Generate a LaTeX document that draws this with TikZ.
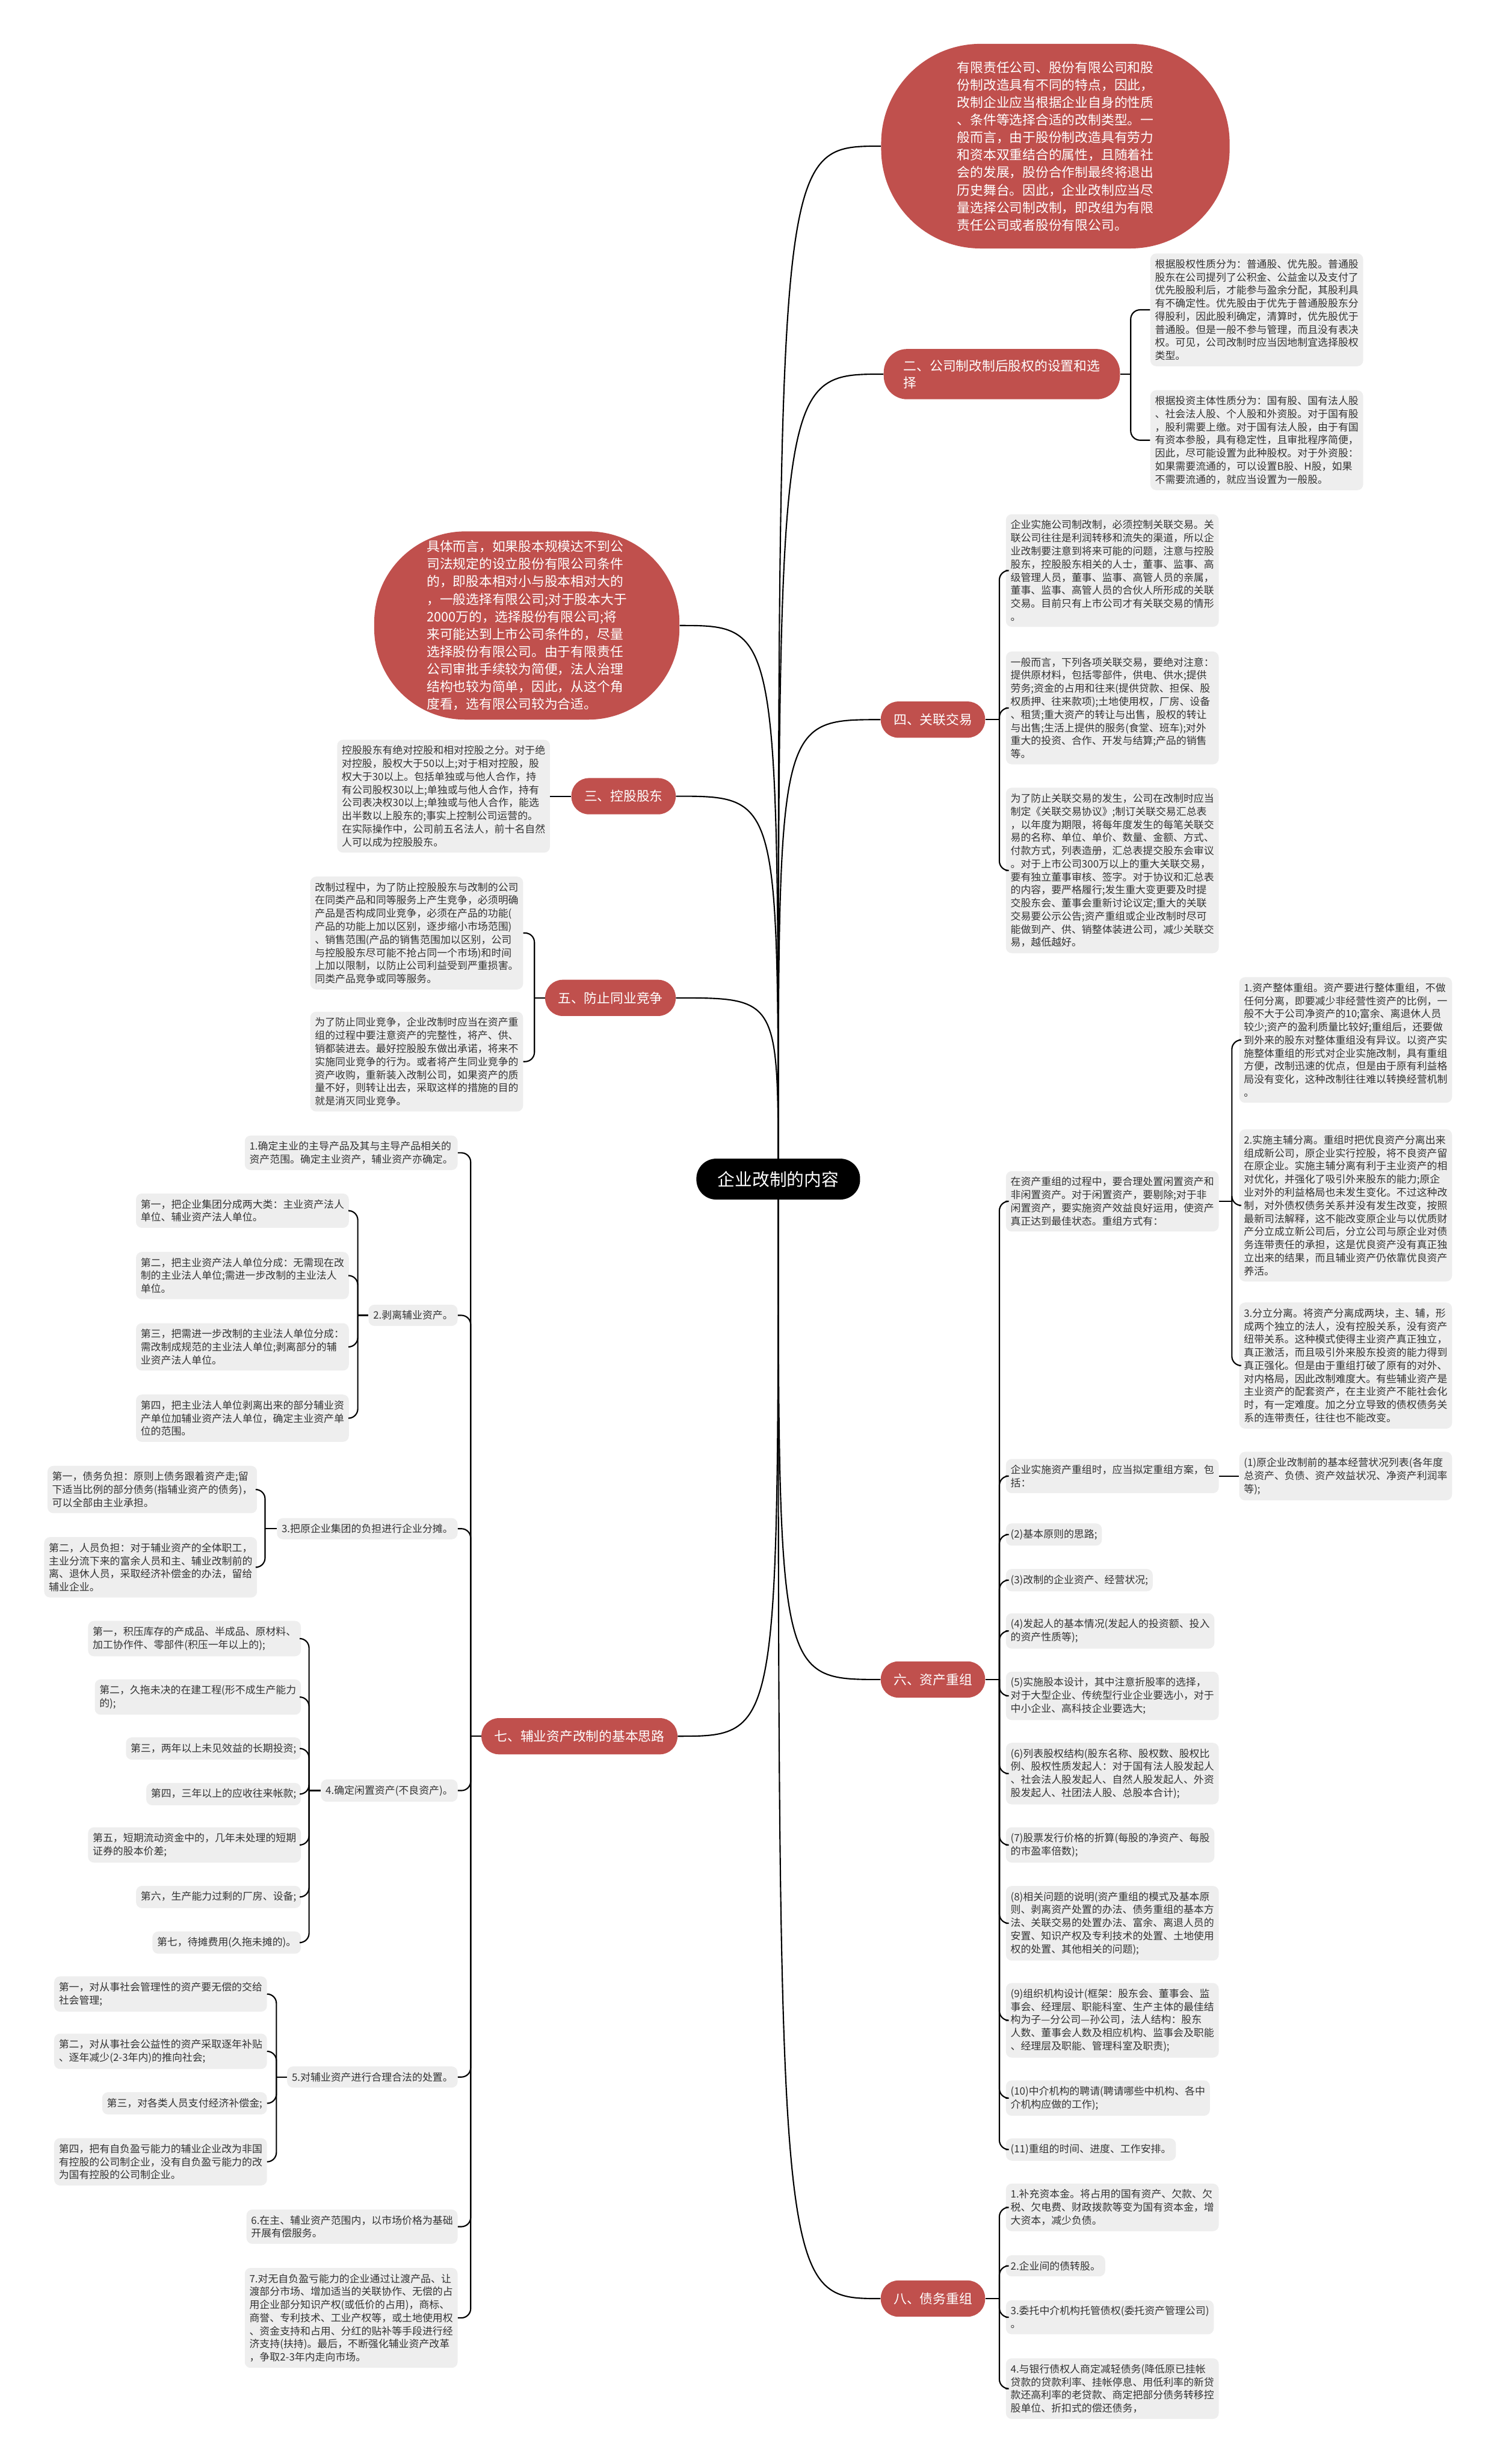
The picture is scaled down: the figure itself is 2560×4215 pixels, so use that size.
\documentclass[tikz,border=0pt]{standalone}
\usepackage{fontspec}
\setmainfont{Noto Sans CJK SC}
\usepackage{tikz}
\usepackage{xcolor}
\usetikzlibrary{backgrounds}
\definecolor{brred}{RGB}{192,80,77}
\definecolor{leafgray}{RGB}{238,238,238}
\definecolor{leaftext}{RGB}{51,51,51}

\begin{document}
\begin{tikzpicture}[x=0.5pt,y=-0.5pt,
root/.style={fill=black,text=white,rounded corners=17pt,minimum width=140pt,minimum height=35pt,font=\fontsize{14.8}{18}\selectfont},
branch/.style={fill=brred,text=white,rounded corners=15pt,minimum height=31pt,inner xsep=11pt,align=left,font=\fontsize{11.2}{14.5}\selectfont},
bubble/.style={fill=brred,text=white,align=left,font=\fontsize{11.2}{15}\selectfont},
leaf/.style={fill=leafgray,text=leaftext,rounded corners=5pt,inner xsep=4pt,inner ysep=5pt,align=left,font=\fontsize{8.7}{11.2}\selectfont},
link/.style={line width=1.1pt,rounded corners=8pt},
trunk/.style={line width=1.1pt}]
\useasboundingbox (0,0) rectangle (2560,4215);

\node[root] (root) at (1331,2017) {企业改制的内容};

% right side
\node[bubble,rounded corners=85pt,minimum width=298pt,minimum height=175pt] (idea1) at (1805,250) {有限责任公司、股份有限公司和股\\份制改造具有不同的特点，因此，\\改制企业应当根据企业自身的性质\\、条件等选择合适的改制类型。一\\般而言，由于股份制改造具有劳力\\和资本双重结合的属性，且随着社\\会的发展，股份合作制最终将退出\\历史舞台。因此，企业改制应当尽\\量选择公司制改制，即改组为有限\\责任公司或者股份有限公司。};

\node[branch,anchor=west,rounded corners=20pt,minimum height=43pt,inner xsep=17pt] (b2) at (1511,640) {二、公司制改制后股权的设置和选\\择};
\node[leaf,anchor=west] (c21) at (1967,530) {根据股权性质分为：普通股、优先股。普通股\\股东在公司提列了公积金、公益金以及支付了\\优先股股利后，才能参与盈余分配，其股利具\\有不确定性。优先股由于优先于普通股股东分\\得股利，因此股利确定，清算时，优先股优于\\普通股。但是一般不参与管理，而且没有表决\\权。可见，公司改制时应当因地制宜选择股权\\类型。};
\node[leaf,anchor=west] (c22) at (1967,753) {根据投资主体性质分为：国有股、国有法人股\\、社会法人股、个人股和外资股。对于国有股\\，股利需要上缴。对于国有法人股，由于有国\\有资本参股，具有稳定性，且审批程序简便，\\因此，尽可能设置为此种股权。对于外资股：\\如果需要流通的，可以设置B股、H股，如果\\不需要流通的，就应当设置为一般股。};

\node[branch,anchor=west] (b4) at (1506,1231) {四、关联交易};
\node[leaf,anchor=west] (c41) at (1720,976) {企业实施公司制改制，必须控制关联交易。关\\联公司往往是利润转移和流失的渠道，所以企\\业改制要注意到将来可能的问题，注意与控股\\股东，控股股东相关的人士，董事、监事、高\\级管理人员，董事、监事、高管人员的亲属，\\董事、监事、高管人员的合伙人所形成的关联\\交易。目前只有上市公司才有关联交易的情形\\。};
\node[leaf,anchor=west] (c42) at (1720,1211) {一般而言，下列各项关联交易，要绝对注意：\\提供原材料，包括零部件，供电、供水;提供\\劳务;资金的占用和往来(提供贷款、担保、股\\权质押、往来款项);土地使用权，厂房、设备\\、租赁;重大资产的转让与出售，股权的转让\\与出售;生活上提供的服务(食堂、班车);对外\\重大的投资、合作、开发与结算;产品的销售\\等。};
\node[leaf,anchor=west] (c43) at (1720,1489) {为了防止关联交易的发生，公司在改制时应当\\制定《关联交易协议》;制订关联交易汇总表\\，以年度为期限，将每年度发生的每笔关联交\\易的名称、单位、单价、数量、金额、方式、\\付款方式，列表造册，汇总表提交股东会审议\\。对于上市公司300万以上的重大关联交易，\\要有独立董事审核、签字。对于协议和汇总表\\的内容，要严格履行;发生重大变更要及时提\\交股东会、董事会重新讨论议定;重大的关联\\交易要公示公告;资产重组或企业改制时尽可\\能做到产、供、销整体装进公司，减少关联交\\易，越低越好。};

\node[branch,anchor=west] (b6) at (1506,2873) {六、资产重组};
\node[leaf,anchor=west] (c6a) at (1720,2055) {在资产重组的过程中，要合理处置闲置资产和\\非闲置资产。对于闲置资产，要剔除;对于非\\闲置资产，要实施资产效益良好运用，使资产\\真正达到最佳状态。重组方式有：};
\node[leaf,anchor=west] (c6a1) at (2119,1779) {1.资产整体重组。资产要进行整体重组，不做\\任何分离，即要减少非经营性资产的比例，一\\般不大于公司净资产的10;富余、离退休人员\\较少;资产的盈利质量比较好;重组后，还要做\\到外来的股东对整体重组没有异议。以资产实\\施整体重组的形式对企业实施改制，具有重组\\方便，改制迅速的优点，但是由于原有利益格\\局没有变化，这种改制往往难以转换经营机制\\。};
\node[leaf,anchor=west] (c6a2) at (2119,2062) {2.实施主辅分离。重组时把优良资产分离出来\\组成新公司，原企业实行控股，将不良资产留\\在原企业。实施主辅分离有利于主业资产的相\\对优化，并强化了吸引外来股东的能力;原企\\业对外的利益格局也未发生变化。不过这种改\\制，对外债权债务关系并没有发生改变，按照\\最新司法解释，这不能改变原企业与以优质财\\产分立成立新公司后，分立公司与原企业对债\\务连带责任的承担，这是优良资产没有真正独\\立出来的结果，而且辅业资产仍依靠优良资产\\养活。};
\node[leaf,anchor=west] (c6a3) at (2119,2336) {3.分立分离。将资产分离成两块，主、辅，形\\成两个独立的法人，没有控股关系，没有资产\\纽带关系。这种模式使得主业资产真正独立，\\真正激活，而且吸引外来股东投资的能力得到\\真正强化。但是由于重组打破了原有的对外、\\对内格局，因此改制难度大。有些辅业资产是\\主业资产的配套资产，在主业资产不能社会化\\时，有一定难度。加之分立导致的债权债务关\\系的连带责任，往往也不能改变。};
\node[leaf,anchor=west] (c6b) at (1720,2525) {企业实施资产重组时，应当拟定重组方案，包\\括：};
\node[leaf,anchor=west] (c6b1) at (2119,2525) {(1)原企业改制前的基本经营状况列表(各年度\\总资产、负债、资产效益状况、净资产利润率\\等);};
\node[leaf,anchor=west] (c62) at (1720,2625) {(2)基本原则的思路;};
\node[leaf,anchor=west] (c63) at (1720,2703) {(3)改制的企业资产、经营状况;};
\node[leaf,anchor=west] (c64) at (1720,2790) {(4)发起人的基本情况(发起人的投资额、投入\\的资产性质等);};
\node[leaf,anchor=west] (c65) at (1720,2901) {(5)实施股本设计，其中注意折股率的选择，\\对于大型企业、传统型行业企业要选小，对于\\中小企业、高科技企业要选大;};
\node[leaf,anchor=west] (c66) at (1720,3034) {(6)列表股权结构(股东名称、股权数、股权比\\例、股权性质发起人：对于国有法人股发起人\\、社会法人股发起人、自然人股发起人、外资\\股发起人、社团法人股、总股本合计);};
\node[leaf,anchor=west] (c67) at (1720,3156) {(7)股票发行价格的折算(每股的净资产、每股\\的市盈率倍数);};
\node[leaf,anchor=west] (c68) at (1720,3290) {(8)相关问题的说明(资产重组的模式及基本原\\则、剥离资产处置的办法、债务重组的基本方\\法、关联交易的处置办法、富余、离退人员的\\安置、知识产权及专利技术的处置、土地使用\\权的处置、其他相关的问题);};
\node[leaf,anchor=west] (c69) at (1720,3456) {(9)组织机构设计(框架：股东会、董事会、监\\事会、经理层、职能科室、生产主体的最佳结\\构为子—分公司—孙公司，法人结构：股东\\人数、董事会人数及相应机构、监事会及职能\\、经理层及职能、管理科室及职责);};
\node[leaf,anchor=west] (c610) at (1720,3589) {(10)中介机构的聘请(聘请哪些中机构、各中\\介机构应做的工作);};
\node[leaf,anchor=west] (c611) at (1720,3677) {(11)重组的时间、进度、工作安排。};

\node[branch,anchor=west] (b8) at (1506,3932) {八、债务重组};
\node[leaf,anchor=west] (c81) at (1720,3776) {1.补充资本金。将占用的国有资产、欠款、欠\\税、欠电费、财政拨款等变为国有资本金，增\\大资本，减少负债。};
\node[leaf,anchor=west] (c82) at (1720,3876) {2.企业间的债转股。};
\node[leaf,anchor=west] (c83) at (1720,3964) {3.委托中介机构托管债权(委托资产管理公司)\\。};
\node[leaf,anchor=west] (c84) at (1720,4086) {4.与银行债权人商定减轻债务(降低原已挂帐\\贷款的贷款利率、挂帐停息、用低利率的新贷\\款还高利率的老贷款、商定把部分债务转移控\\股单位、折扣式的偿还债务，};

% left side
\node[bubble,rounded corners=78pt,minimum width=261pt,minimum height=161pt] (idea2) at (901,1070) {具体而言，如果股本规模达不到公\\司法规定的设立股份有限公司条件\\的，即股本相对小与股本相对大的\\，一般选择有限公司;对于股本大于\\2000万的，选择股份有限公司;将\\来可能达到上市公司条件的，尽量\\选择股份有限公司。由于有限责任\\公司审批手续较为简便，法人治理\\结构也较为简单，因此，从这个角\\度看，选有限公司较为合适。};

\node[branch,anchor=east] (b3) at (1156,1362) {三、控股股东};
\node[leaf,anchor=east] (c31) at (941,1362) {控股股东有绝对控股和相对控股之分。对于绝\\对控股，股权大于50以上;对于相对控股，股\\权大于30以上。包括单独或与他人合作，持\\有公司股权30以上;单独或与他人合作，持有\\公司表决权30以上;单独或与他人合作，能选\\出半数以上股东的;事实上控制公司运营的。\\在实际操作中，公司前五名法人，前十名自然\\人可以成为控股股东。};

\node[branch,anchor=east] (b5) at (1156,1707) {五、防止同业竞争};
\node[leaf,anchor=east] (c51) at (895,1596) {改制过程中，为了防止控股股东与改制的公司\\在同类产品和同等服务上产生竞争，必须明确\\产品是否构成同业竞争，必须在产品的功能(\\产品的功能上加以区别，逐步缩小市场范围)\\、销售范围(产品的销售范围加以区别，公司\\与控股股东尽可能不抢占同一个市场)和时间\\上加以限制，以防止公司利益受到严重损害。\\同类产品竞争或同等服务。};
\node[leaf,anchor=east] (c52) at (895,1816) {为了防止同业竞争，企业改制时应当在资产重\\组的过程中要注意资产的完整性，将产、供、\\销都装进去。最好控股股东做出承诺，将来不\\实施同业竞争的行为。或者将产生同业竞争的\\资产收购，重新装入改制公司，如果资产的质\\量不好，则转让出去，采取这样的措施的目的\\就是消灭同业竞争。};

\node[branch,anchor=east] (b7) at (1159,2970) {七、辅业资产改制的基本思路};
\node[leaf,anchor=east] (c71) at (783,1972) {1.确定主业的主导产品及其与主导产品相关的\\资产范围。确定主业资产，辅业资产亦确定。};
\node[leaf,anchor=east] (c72) at (783,2250) {2.剥离辅业资产。};
\node[leaf,anchor=east] (c721) at (597,2071) {第一，把企业集团分成两大类：主业资产法人\\单位、辅业资产法人单位。};
\node[leaf,anchor=east] (c722) at (597,2182) {第二，把主业资产法人单位分成：无需现在改\\制的主业法人单位;需进一步改制的主业法人\\单位。};
\node[leaf,anchor=east] (c723) at (597,2304) {第三，把需进一步改制的主业法人单位分成：\\需改制成规范的主业法人单位;剥离部分的辅\\业资产法人单位。};
\node[leaf,anchor=east] (c724) at (597,2426) {第四，把主业法人单位剥离出来的部分辅业资\\产单位加辅业资产法人单位，确定主业资产单\\位的范围。};
\node[leaf,anchor=east] (c73) at (783,2615) {3.把原企业集团的负担进行企业分摊。};
\node[leaf,anchor=east] (c731) at (440,2548) {第一，债务负担：原则上债务跟着资产走;留\\下适当比例的部分债务(指辅业资产的债务)，\\可以全部由主业承担。};
\node[leaf,anchor=east] (c732) at (440,2681) {第二，人员负担：对于辅业资产的全体职工，\\主业分流下来的富余人员和主、辅业改制前的\\离、退休人员，采取经济补偿金的办法，留给\\辅业企业。};
\node[leaf,anchor=east] (c74) at (783,3063) {4.确定闲置资产(不良资产)。};
\node[leaf,anchor=east] (c741) at (515,2803) {第一，积压库存的产成品、半成品、原材料、\\加工协作件、零部件(积压一年以上的);};
\node[leaf,anchor=east] (c742) at (515,2903) {第二，久拖未决的在建工程(形不成生产能力\\的);};
\node[leaf,anchor=east] (c743) at (515,2991) {第三，两年以上未见效益的长期投资;};
\node[leaf,anchor=east] (c744) at (515,3069) {第四，三年以上的应收往来帐款;};
\node[leaf,anchor=east] (c745) at (515,3156) {第五，短期流动资金中的，几年未处理的短期\\证券的股本价差;};
\node[leaf,anchor=east] (c746) at (515,3245) {第六，生产能力过剩的厂房、设备;};
\node[leaf,anchor=east] (c747) at (515,3323) {第七，待摊费用(久拖未摊的)。};
\node[leaf,anchor=east] (c75) at (783,3553) {5.对辅业资产进行合理合法的处置。};
\node[leaf,anchor=east] (c751) at (457,3411) {第一，对从事社会管理性的资产要无偿的交给\\社会管理;};
\node[leaf,anchor=east] (c752) at (457,3509) {第二，对从事社会公益性的资产采取逐年补贴\\、逐年减少(2-3年内)的推向社会;};
\node[leaf,anchor=east] (c753) at (457,3598) {第三，对各类人员支付经济补偿金;};
\node[leaf,anchor=east] (c754) at (457,3698) {第四，把有自负盈亏能力的辅业企业改为非国\\有控股的公司制企业，没有自负盈亏能力的改\\为国有控股的公司制企业。};
\node[leaf,anchor=east] (c76) at (783,3809) {6.在主、辅业资产范围内，以市场价格为基础\\开展有偿服务。};
\node[leaf,anchor=east] (c77) at (783,3965) {7.对无自负盈亏能力的企业通过让渡产品、让\\渡部分市场、增加适当的关联协作、无偿的占\\用企业部分知识产权(或低价的占用)，商标、\\商誉、专利技术、工业产权等，或土地使用权\\、资金支持和占用、分红的贴补等手段进行经\\济支持(扶持)。最后，不断强化辅业资产改革\\，争取2-3年内走向市场。};

\begin{scope}[on background layer]
\draw[trunk] (root.center) .. controls (root.center |- idea1.west) and (root.center |- idea1.west) .. (idea1.west);
\draw[trunk] (root.center) .. controls (root.center |- b2.west) and (root.center |- b2.west) .. (b2.west);
\draw[trunk] (root.center) .. controls (root.center |- b4.west) and (root.center |- b4.west) .. (b4.west);
\draw[trunk] (root.center) .. controls (root.center |- b6.west) and (root.center |- b6.west) .. (b6.west);
\draw[trunk] (root.center) .. controls (root.center |- b8.west) and (root.center |- b8.west) .. (b8.west);
\draw[trunk] (root.center) .. controls (root.center |- idea2.east) and (root.center |- idea2.east) .. (idea2.east);
\draw[trunk] (root.center) .. controls (root.center |- b3.east) and (root.center |- b3.east) .. (b3.east);
\draw[trunk] (root.center) .. controls (root.center |- b5.east) and (root.center |- b5.east) .. (b5.east);
\draw[trunk] (root.center) .. controls (root.center |- b7.east) and (root.center |- b7.east) .. (b7.east);
\end{scope}

\draw[link] (b2.east) -- ++(18,0) coordinate (k2);
\draw[link] (k2) |- (c21.west);
\draw[link] (k2) |- (c22.west);

\draw[link] (b4.east) -- ++(24,0) coordinate (k4);
\draw[link] (k4) |- (c41.west);
\draw[link] (k4) |- (c42.west);
\draw[link] (k4) |- (c43.west);

\draw[link] (b6.east) -- ++(24,0) coordinate (k6);
\draw[link] (k6) |- (c6a.west);
\draw[link] (k6) |- (c6b.west);
\draw[link] (k6) |- (c62.west);
\draw[link] (k6) |- (c63.west);
\draw[link] (k6) |- (c64.west);
\draw[link] (k6) |- (c65.west);
\draw[link] (k6) |- (c66.west);
\draw[link] (k6) |- (c67.west);
\draw[link] (k6) |- (c68.west);
\draw[link] (k6) |- (c69.west);
\draw[link] (k6) |- (c610.west);
\draw[link] (k6) |- (c611.west);
\draw[link] (c6a.east) -- ++(22,0) coordinate (k6a);
\draw[link] (k6a) |- (c6a1.west);
\draw[link] (k6a) |- (c6a2.west);
\draw[link] (k6a) |- (c6a3.west);
\draw[link] (c6b.east) -- (c6b1.west);

\draw[link] (b8.east) -- ++(24,0) coordinate (k8);
\draw[link] (k8) |- (c81.west);
\draw[link] (k8) |- (c82.west);
\draw[link] (k8) |- (c83.west);
\draw[link] (k8) |- (c84.west);

\draw[link] (b3.west) -- (c31.east);

\draw[link] (b5.west) -- ++(-18,0) coordinate (k5);
\draw[link] (k5) |- (c51.east);
\draw[link] (k5) |- (c52.east);

\draw[link] (b7.west) -- ++(-18,0) coordinate (k7);
\draw[link] (k7) |- (c71.east);
\draw[link] (k7) |- (c72.east);
\draw[link] (k7) |- (c73.east);
\draw[link] (k7) |- (c74.east);
\draw[link] (k7) |- (c75.east);
\draw[link] (k7) |- (c76.east);
\draw[link] (k7) |- (c77.east);

\draw[link] (c72.west) -- ++(-18,0) coordinate (k72);
\draw[link] (k72) |- (c721.east);
\draw[link] (k72) |- (c722.east);
\draw[link] (k72) |- (c723.east);
\draw[link] (k72) |- (c724.east);

\draw[link] (c73.west) -- ++(-20,0) coordinate (k73);
\draw[link] (k73) |- (c731.east);
\draw[link] (k73) |- (c732.east);

\draw[link] (c74.west) -- ++(-20,0) coordinate (k74);
\draw[link] (k74) |- (c741.east);
\draw[link] (k74) |- (c742.east);
\draw[link] (k74) |- (c743.east);
\draw[link] (k74) |- (c744.east);
\draw[link] (k74) |- (c745.east);
\draw[link] (k74) |- (c746.east);
\draw[link] (k74) |- (c747.east);

\draw[link] (c75.west) -- ++(-18,0) coordinate (k75);
\draw[link] (k75) |- (c751.east);
\draw[link] (k75) |- (c752.east);
\draw[link] (k75) |- (c753.east);
\draw[link] (k75) |- (c754.east);
\end{tikzpicture}
\end{document}
